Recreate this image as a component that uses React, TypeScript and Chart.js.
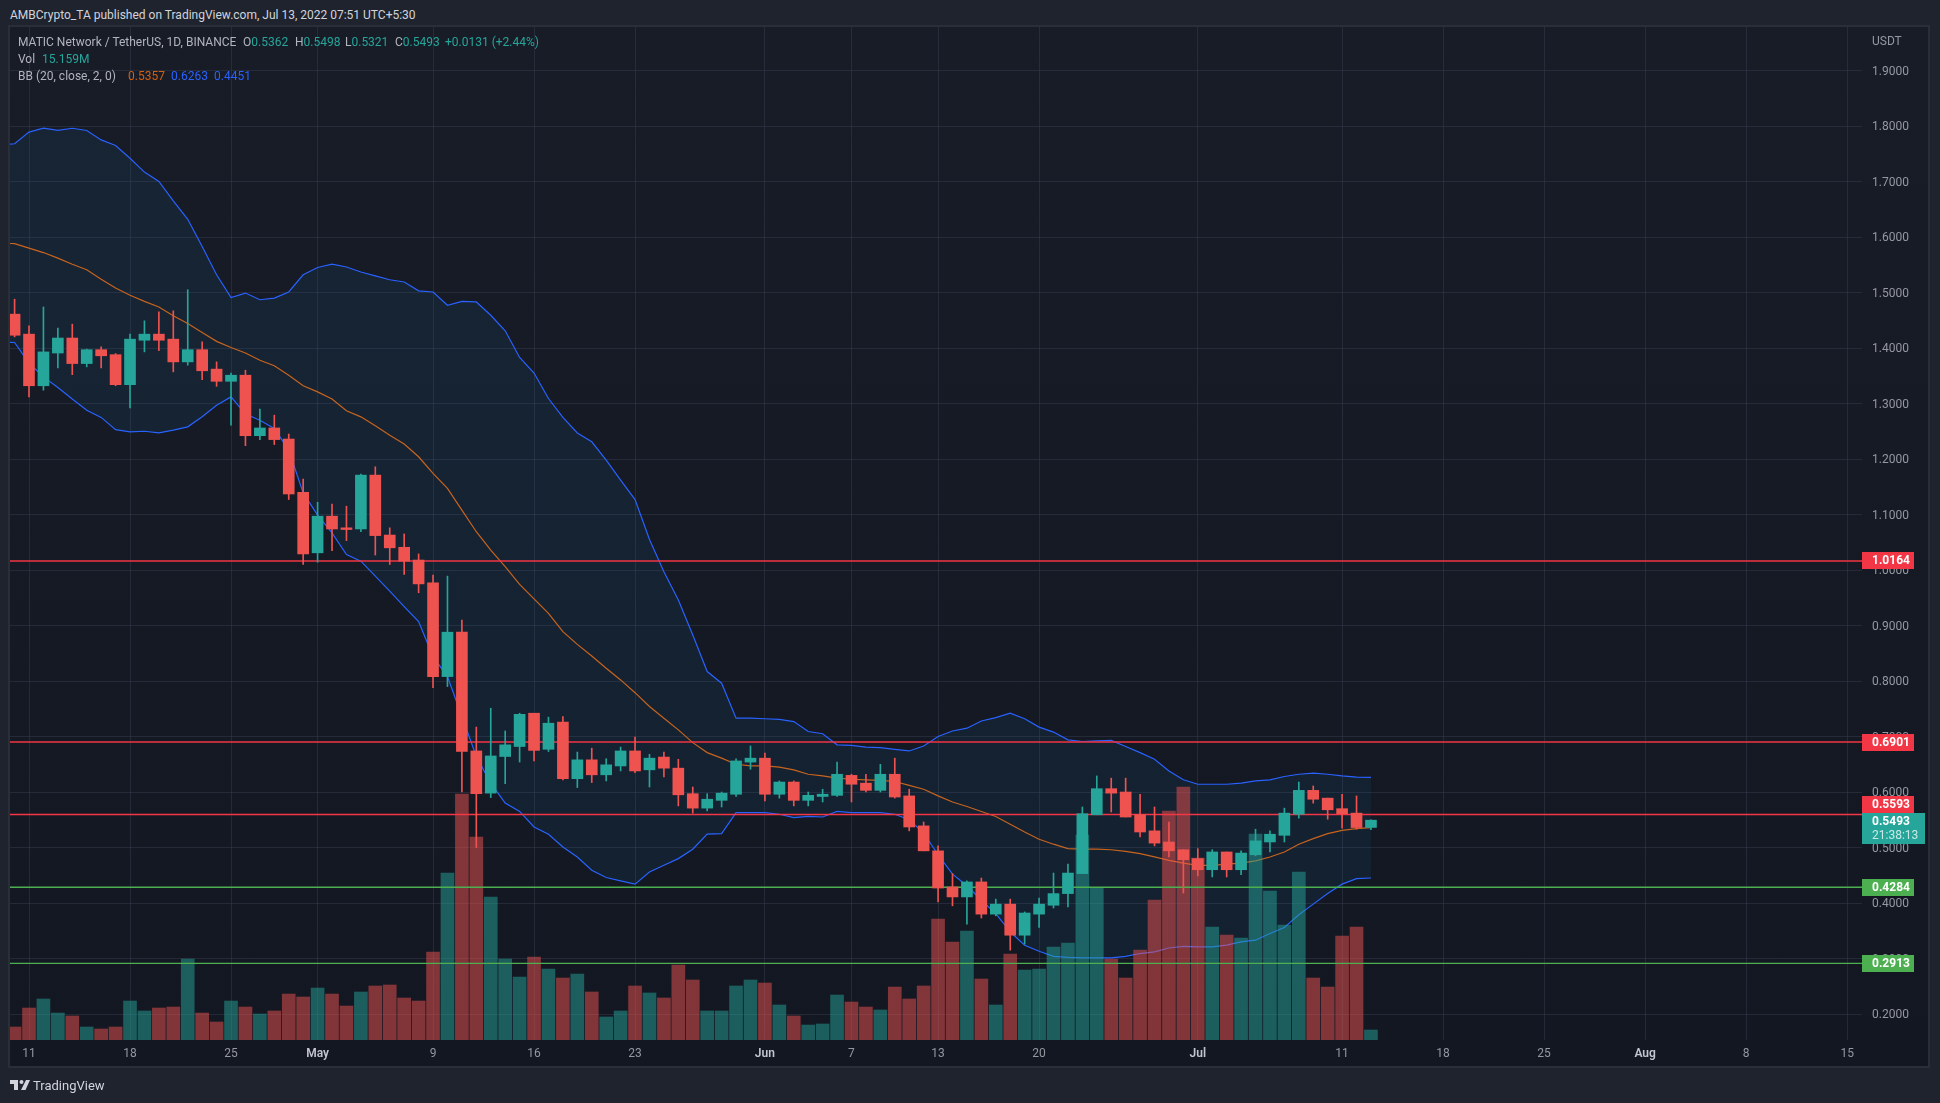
import { useEffect, useRef } from "react";
import Chart from "chart.js/auto";

const FONT = "Roboto, sans-serif";

// daily candles, first one is Apr 10 2022
const firstCandleDay = -1; // days from Apr 11
const opens = [1.461, 1.425, 1.332, 1.391, 1.418, 1.372, 1.397, 1.388, 1.334, 1.414, 1.425, 1.416, 1.375, 1.397, 1.362, 1.34, 1.351, 1.242, 1.256, 1.236, 1.14, 1.031, 1.097, 1.076, 1.074, 1.171, 1.063, 1.041, 1.018, 0.977, 0.808, 0.888, 0.674, 0.598, 0.664, 0.682, 0.742, 0.677, 0.726, 0.624, 0.658, 0.631, 0.647, 0.674, 0.64, 0.663, 0.643, 0.597, 0.571, 0.585, 0.596, 0.654, 0.661, 0.596, 0.618, 0.585, 0.592, 0.594, 0.63, 0.616, 0.603, 0.632, 0.593, 0.539, 0.494, 0.429, 0.411, 0.438, 0.38, 0.398, 0.342, 0.38, 0.396, 0.417, 0.453, 0.559, 0.606, 0.6, 0.559, 0.53, 0.51, 0.496, 0.48, 0.46, 0.492, 0.46, 0.487, 0.51, 0.522, 0.56, 0.603, 0.589, 0.57, 0.562, 0.5362];
const highs = [1.488, 1.44, 1.474, 1.436, 1.443, 1.398, 1.402, 1.39, 1.425, 1.449, 1.465, 1.467, 1.505, 1.411, 1.375, 1.355, 1.36, 1.29, 1.279, 1.245, 1.164, 1.122, 1.119, 1.115, 1.173, 1.186, 1.076, 1.065, 1.029, 0.991, 0.989, 0.91, 0.717, 0.751, 0.71, 0.742, 0.742, 0.735, 0.736, 0.672, 0.679, 0.66, 0.681, 0.699, 0.668, 0.672, 0.659, 0.609, 0.597, 0.6, 0.66, 0.683, 0.67, 0.62, 0.62, 0.6, 0.605, 0.654, 0.632, 0.632, 0.65, 0.661, 0.605, 0.546, 0.503, 0.453, 0.44, 0.445, 0.407, 0.407, 0.384, 0.409, 0.454, 0.47, 0.573, 0.629, 0.625, 0.625, 0.596, 0.573, 0.546, 0.496, 0.498, 0.496, 0.492, 0.494, 0.533, 0.53, 0.571, 0.618, 0.611, 0.589, 0.596, 0.593, 0.5498];
const lows = [1.42, 1.312, 1.324, 1.364, 1.352, 1.366, 1.364, 1.332, 1.292, 1.393, 1.395, 1.357, 1.369, 1.343, 1.331, 1.261, 1.224, 1.235, 1.226, 1.127, 1.01, 1.014, 1.035, 1.053, 1.069, 1.027, 1.01, 0.992, 0.959, 0.788, 0.79, 0.6, 0.5, 0.59, 0.615, 0.654, 0.656, 0.673, 0.622, 0.608, 0.617, 0.62, 0.638, 0.635, 0.609, 0.627, 0.575, 0.562, 0.566, 0.573, 0.592, 0.641, 0.584, 0.589, 0.575, 0.575, 0.582, 0.592, 0.582, 0.6, 0.6, 0.589, 0.53, 0.494, 0.402, 0.395, 0.362, 0.373, 0.377, 0.315, 0.326, 0.356, 0.391, 0.393, 0.453, 0.559, 0.564, 0.555, 0.519, 0.503, 0.483, 0.418, 0.449, 0.447, 0.447, 0.451, 0.485, 0.492, 0.51, 0.553, 0.58, 0.551, 0.535, 0.533, 0.5321];
const closes = [1.423, 1.332, 1.393, 1.418, 1.372, 1.397, 1.386, 1.334, 1.416, 1.425, 1.414, 1.375, 1.397, 1.359, 1.34, 1.351, 1.242, 1.256, 1.235, 1.137, 1.029, 1.097, 1.074, 1.073, 1.171, 1.062, 1.04, 1.016, 0.975, 0.808, 0.888, 0.673, 0.597, 0.665, 0.685, 0.74, 0.675, 0.724, 0.624, 0.658, 0.631, 0.649, 0.674, 0.638, 0.661, 0.643, 0.595, 0.571, 0.587, 0.598, 0.656, 0.661, 0.596, 0.618, 0.585, 0.594, 0.596, 0.632, 0.614, 0.603, 0.632, 0.591, 0.537, 0.494, 0.427, 0.411, 0.438, 0.38, 0.398, 0.342, 0.382, 0.398, 0.417, 0.454, 0.561, 0.606, 0.598, 0.555, 0.528, 0.508, 0.494, 0.478, 0.46, 0.492, 0.46, 0.49, 0.512, 0.524, 0.562, 0.603, 0.587, 0.568, 0.561, 0.536, 0.5493];
// volume in millions
const volumes = [19.7, 48.5, 62.2, 40.9, 36.4, 19.7, 16.7, 19.7, 59.1, 44, 48.5, 50, 122.8, 40.9, 27.3, 59.1, 50, 39.4, 44, 69.7, 65.2, 78.8, 69.7, 51.5, 72.8, 81.9, 83.4, 63.7, 59.1, 133.4, 253.2, 372.9, 307.7, 216.8, 122.8, 95.5, 125.8, 107.6, 94, 100, 72.8, 34.9, 44, 81.9, 71.3, 63.7, 113.7, 91, 44, 44, 81.9, 91, 86.4, 53.1, 36.4, 22.7, 24.3, 68.2, 57.6, 50, 45.5, 80.3, 62.2, 81.9, 183.4, 148.6, 165.2, 92.5, 53.1, 130.4, 106.1, 107.6, 141, 147, 310.8, 230.4, 122.8, 94, 136.4, 212.2, 347.2, 383.5, 275.9, 171.3, 159.2, 154.6, 312.3, 225.9, 174.3, 254.7, 94, 80.3, 157.7, 171.3, 15.159];

// bollinger bands start one day earlier so the lines run off the left edge
const firstBandDay = -2;
const bbUpper = [1.766, 1.768, 1.789, 1.796, 1.792, 1.796, 1.792, 1.775, 1.765, 1.742, 1.717, 1.7, 1.665, 1.632, 1.583, 1.532, 1.491, 1.499, 1.487, 1.49, 1.501, 1.532, 1.545, 1.551, 1.546, 1.537, 1.53, 1.523, 1.519, 1.503, 1.501, 1.477, 1.484, 1.483, 1.459, 1.431, 1.383, 1.355, 1.309, 1.275, 1.247, 1.231, 1.198, 1.162, 1.127, 1.055, 0.997, 0.946, 0.883, 0.817, 0.796, 0.733, 0.733, 0.732, 0.731, 0.727, 0.709, 0.705, 0.685, 0.684, 0.681, 0.68, 0.677, 0.674, 0.683, 0.7, 0.71, 0.715, 0.728, 0.734, 0.742, 0.732, 0.717, 0.708, 0.694, 0.691, 0.692, 0.693, 0.682, 0.671, 0.659, 0.638, 0.622, 0.614, 0.614, 0.614, 0.616, 0.62, 0.622, 0.628, 0.632, 0.634, 0.632, 0.629, 0.627, 0.6263];
const bbBasis = [1.589, 1.588, 1.58, 1.572, 1.562, 1.551, 1.541, 1.524, 1.508, 1.495, 1.484, 1.474, 1.458, 1.444, 1.428, 1.412, 1.401, 1.391, 1.378, 1.368, 1.351, 1.332, 1.321, 1.308, 1.287, 1.276, 1.26, 1.243, 1.227, 1.204, 1.174, 1.147, 1.108, 1.069, 1.036, 1.006, 0.974, 0.948, 0.922, 0.889, 0.866, 0.845, 0.823, 0.802, 0.779, 0.754, 0.733, 0.712, 0.689, 0.671, 0.661, 0.65, 0.647, 0.647, 0.645, 0.64, 0.632, 0.629, 0.625, 0.623, 0.622, 0.621, 0.619, 0.612, 0.605, 0.593, 0.582, 0.574, 0.565, 0.556, 0.542, 0.528, 0.515, 0.506, 0.498, 0.497, 0.497, 0.496, 0.493, 0.489, 0.483, 0.477, 0.472, 0.468, 0.468, 0.47, 0.472, 0.476, 0.483, 0.492, 0.506, 0.516, 0.525, 0.531, 0.534, 0.5357];
const bbLower = [1.411, 1.41, 1.373, 1.348, 1.329, 1.308, 1.288, 1.275, 1.253, 1.249, 1.25, 1.247, 1.252, 1.258, 1.276, 1.297, 1.312, 1.281, 1.27, 1.255, 1.216, 1.139, 1.099, 1.067, 1.028, 1.016, 0.989, 0.962, 0.934, 0.907, 0.844, 0.808, 0.736, 0.664, 0.616, 0.58, 0.565, 0.537, 0.524, 0.501, 0.483, 0.459, 0.446, 0.44, 0.434, 0.456, 0.468, 0.48, 0.497, 0.524, 0.525, 0.563, 0.563, 0.563, 0.56, 0.554, 0.556, 0.555, 0.565, 0.563, 0.563, 0.563, 0.56, 0.55, 0.526, 0.487, 0.452, 0.431, 0.405, 0.381, 0.348, 0.324, 0.313, 0.304, 0.302, 0.301, 0.301, 0.301, 0.304, 0.309, 0.312, 0.319, 0.322, 0.321, 0.321, 0.324, 0.33, 0.333, 0.345, 0.356, 0.379, 0.398, 0.417, 0.434, 0.444, 0.4451];

const redLevels = [1.0164, 0.6901, 0.5593];
const greenLevels = [0.4284, 0.2913];
const lastPrice = 0.5493;
const countdown = "21:38:13";

const priceTicks = [0.2, 0.3, 0.4, 0.5, 0.6, 0.7, 0.8, 0.9, 1.0, 1.1, 1.2, 1.3, 1.4, 1.5, 1.6, 1.7, 1.8, 1.9];
const timeTickDays = [0, 7, 14, 20, 28, 35, 42, 51, 57, 63, 70, 81, 91, 98, 105, 112, 119, 126];
const timeTickLabels = ["11", "18", "25", "May", "9", "16", "23", "Jun", "7", "13", "20", "Jul", "11", "18", "25", "Aug", "8", "15"];

const UP = "#26a69a";
const DOWN = "#ef5350";
const LEVEL_RED = "#f23645";
const LEVEL_GREEN = "#4caf50";
const BB_MID = "#d4600f";
const BB_BAND = "#2962ff";
const GRID = "rgba(54,60,78,0.5)";

const candleDay = (i: number) => firstCandleDay + i;
const bandDay = (i: number) => firstBandDay + i;
const isUp = (i: number) => closes[i] >= opens[i];

const priceTags = {
  id: "priceTags",
  afterDraw(chart: any) {
    const { ctx, scales } = chart;
    const y = scales.y;
    const axisLeft = chart.chartArea.right;
    const tagH = 17;
    const lastY = y.getPixelForValue(lastPrice);
    const lastTop = Math.round(lastY - 7);
    ctx.save();
    ctx.textBaseline = "middle";
    ctx.textAlign = "left";
    const drawTag = (value: number, color: string) => {
      let top = Math.round(y.getPixelForValue(value) - tagH / 2);
      // the tag next to the last price gets pushed up, same as on the site
      if (top + tagH > lastTop && top < lastTop + 31) top = lastTop - tagH;
      ctx.fillStyle = color;
      ctx.fillRect(axisLeft, top, 52, tagH);
      ctx.fillStyle = "#ffffff";
      ctx.font = `700 12px ${FONT}`;
      ctx.fillText(value.toFixed(4), axisLeft + 10, top + tagH / 2 + 0.5);
    };
    redLevels.forEach((v) => drawTag(v, LEVEL_RED));
    greenLevels.forEach((v) => drawTag(v, LEVEL_GREEN));
    ctx.fillStyle = UP;
    ctx.fillRect(axisLeft, lastTop, 63, 31);
    ctx.fillStyle = "#ffffff";
    ctx.font = `700 12px ${FONT}`;
    ctx.fillText(lastPrice.toFixed(4), axisLeft + 10, lastTop + 9);
    ctx.fillStyle = "rgba(255,255,255,0.75)";
    ctx.font = `12px ${FONT}`;
    ctx.fillText(countdown, axisLeft + 10, lastTop + 23);
    ctx.restore();
  },
};

function levelDataset(value: number, color: string, width: number) {
  return {
    type: "line" as const,
    data: [
      { x: -2, y: value },
      { x: 128, y: value },
    ],
    borderColor: color,
    borderWidth: width,
    pointRadius: 0,
    yAxisID: "y",
    order: 7,
  };
}

function bandDataset(values: number[], color: string, fill: any) {
  return {
    type: "line" as const,
    data: values.map((v, i) => ({ x: bandDay(i), y: v })),
    borderColor: color,
    borderWidth: 1.2,
    pointRadius: 0,
    tension: 0,
    fill,
    backgroundColor: "rgba(33,150,243,0.07)",
    yAxisID: "y",
    order: 10,
  };
}

export default function App() {
  const canvasRef = useRef<HTMLCanvasElement | null>(null);

  useEffect(() => {
    if (!canvasRef.current) return;
    const chart = new Chart(canvasRef.current, {
      type: "bar",
      data: {
        datasets: [
          bandDataset(bbUpper, BB_BAND, "+1"),
          bandDataset(bbLower, BB_BAND, false),
          bandDataset(bbBasis, BB_MID, false),
          {
            type: "bar",
            data: volumes.map((v, i) => ({ x: candleDay(i), y: v })),
            backgroundColor: volumes.map((_, i) =>
              isUp(i) ? "rgba(38,166,154,0.5)" : "rgba(239,83,80,0.5)"
            ),
            barThickness: 13,
            grouped: false,
            yAxisID: "vol",
            order: 9,
          },
          ...redLevels.map((v) => levelDataset(v, LEVEL_RED, 1.5)),
          ...greenLevels.map((v) => levelDataset(v, LEVEL_GREEN, 1.3)),
          {
            type: "bar",
            data: highs.map((h, i) => ({ x: candleDay(i), y: [lows[i], h] })),
            backgroundColor: highs.map((_, i) => (isUp(i) ? UP : DOWN)),
            barThickness: 1,
            grouped: false,
            yAxisID: "y",
            order: 2,
          },
          {
            type: "bar",
            data: opens.map((o, i) => ({ x: candleDay(i), y: [o, closes[i]] })),
            backgroundColor: opens.map((_, i) => (isUp(i) ? UP : DOWN)),
            barThickness: 11,
            grouped: false,
            yAxisID: "y",
            order: 1,
          },
        ] as any,
      },
      options: {
        responsive: false,
        animation: false,
        layout: { padding: { left: 10, top: 27, right: 10, bottom: 35 } },
        plugins: { legend: { display: false }, tooltip: { enabled: false } },
        scales: {
          x: {
            type: "linear",
            min: -1.317,
            max: 127.03,
            offset: false,
            border: { display: false },
            grid: { color: GRID, offset: false, drawTicks: false },
            afterBuildTicks: (scale: any) => {
              scale.ticks = timeTickDays.map((value) => ({ value }));
            },
            afterFit: (scale: any) => {
              scale.height = 28;
            },
            ticks: {
              autoSkip: false,
              maxRotation: 0,
              padding: 7,
              color: (c: any) => (isNaN(Number(timeTickLabels[c.index])) ? "#c3c6ce" : "#9598a1"),
              font: (c: any) => ({
                family: FONT,
                size: 12,
                weight: isNaN(Number(timeTickLabels[c.index])) ? 600 : 400,
              }),
              callback: (_v: any, i: number) => timeTickLabels[i],
            },
          },
          y: {
            type: "linear",
            position: "right",
            min: 0.1532,
            max: 1.9784,
            border: { display: false },
            grid: { color: GRID, drawTicks: false },
            afterBuildTicks: (scale: any) => {
              scale.ticks = priceTicks.map((value) => ({ value }));
            },
            afterFit: (scale: any) => {
              scale.width = 68;
            },
            ticks: {
              padding: 10,
              labelOffset: 1,
              color: "#9598a1",
              font: { family: FONT, size: 12 },
              callback: (v: any) => Number(v).toFixed(4),
            },
          },
          vol: { type: "linear", display: false, min: 0, max: 1536 },
        },
      } as any,
      plugins: [priceTags],
    });
    return () => {
      chart.destroy();
    };
  }, []);

  const line = { position: "absolute" as const, left: 18, whiteSpace: "pre" as const, lineHeight: "16px" };
  const at = (left: number, color?: string) => ({ position: "absolute" as const, left: left - 18, color });

  return (
    <div
      style={{
        position: "fixed",
        left: 0,
        top: 0,
        width: 1940,
        height: 1103,
        background: "#1f232e",
        fontFamily: FONT,
        fontSize: 12,
        color: "#b2b5be",
        overflow: "hidden",
      }}
    >
      <div style={{ position: "absolute", left: 10, top: 7, fontSize: 12, lineHeight: "16px", color: "#d1d4dc", whiteSpace: "pre" }}>
        AMBCrypto_TA published on TradingView.com, Jul 13, 2022 07:51 UTC+5:30
      </div>
      <div
        style={{
          position: "absolute",
          left: 8,
          top: 25,
          width: 1922,
          height: 1043,
          boxSizing: "border-box",
          border: "2px solid #2a2e39",
          background: "linear-gradient(#181c27, #131722)",
        }}
      />
      <canvas ref={canvasRef} width={1940} height={1103} style={{ position: "absolute", left: 0, top: 0 }} />
      <div style={{ ...line, top: 34 }}>
        MATIC Network / TetherUS, 1D, BINANCE
        <span style={at(243)}>
          O<span style={{ color: UP }}>0.5362</span>
        </span>
        <span style={at(295)}>
          H<span style={{ color: UP }}>0.5498</span>
        </span>
        <span style={at(345)}>
          L<span style={{ color: UP }}>0.5321</span>
        </span>
        <span style={at(395)}>
          C<span style={{ color: UP }}>0.5493</span>
        </span>
        <span style={at(445, UP)}>+0.0131 (+2.44%)</span>
      </div>
      <div style={{ ...line, top: 51 }}>
        Vol
        <span style={at(42, UP)}>15.159M</span>
      </div>
      <div style={{ ...line, top: 68 }}>
        BB (20, close, 2, 0)
        <span style={at(128, BB_MID)}>0.5357</span>
        <span style={at(171, BB_BAND)}>0.6263</span>
        <span style={at(214, BB_BAND)}>0.4451</span>
      </div>
      <div style={{ position: "absolute", left: 1872, top: 33, lineHeight: "16px", color: "#9598a1" }}>USDT</div>
      <svg width="20" height="11" viewBox="0 0 20 11" style={{ position: "absolute", left: 10, top: 1080 }}>
        <path d="M0 0H8V10H4V4H0Z M16 0H20L15.5 10H11Z" fill="#d1d4dc" />
        <circle cx="11.5" cy="2" r="2" fill="#d1d4dc" />
      </svg>
      <div style={{ position: "absolute", left: 33, top: 1077, fontSize: 13, lineHeight: "18px", color: "#d1d4dc" }}>TradingView</div>
    </div>
  );
}
